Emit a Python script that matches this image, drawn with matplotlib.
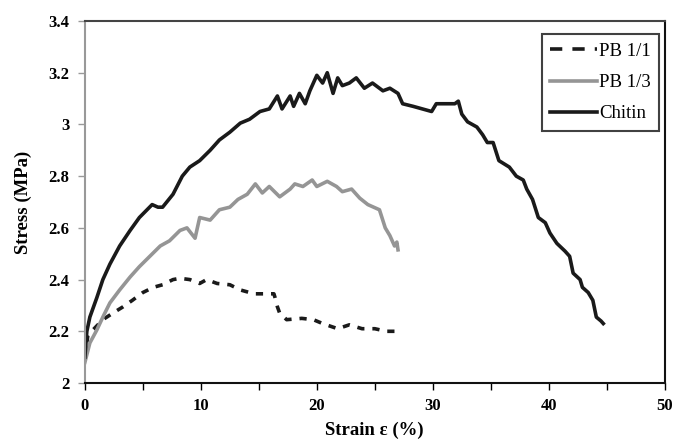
import matplotlib
matplotlib.use('Agg')
import matplotlib.pyplot as plt
from matplotlib.lines import Line2D

plt.rcParams['font.family'] = ['Liberation Serif', 'DejaVu Serif']

# Chitin
chitin_x = [0.0, 0.17, 0.43, 1.03, 1.55, 2.16, 3.0, 3.9, 4.7, 5.8, 6.3, 6.7, 7.6, 8.4,
            9.05, 9.9, 10.8, 11.6, 12.5, 13.4, 14.2, 15.1, 15.9, 16.6, 17.0, 17.7, 18.0,
            18.5, 19.0, 19.4, 20.0, 20.5, 20.9, 21.4, 21.8, 22.2, 22.8, 23.4, 24.1, 24.8,
            25.7, 26.3, 27.0, 27.4, 28.3, 29.1, 29.9, 30.3, 31.2, 31.9, 32.2, 32.5, 33.0,
            33.8, 34.3, 34.7, 35.2, 35.7, 36.6, 37.2, 37.8, 38.1, 38.6, 39.1, 39.7, 40.1,
            40.7, 41.4, 41.8, 42.1, 42.7, 42.9, 43.4, 43.8, 44.1, 44.5, 44.7]
chitin_y = [2.10, 2.20, 2.255, 2.33, 2.40, 2.46, 2.53, 2.59, 2.64, 2.69, 2.68, 2.68, 2.73, 2.80,
            2.835, 2.86, 2.90, 2.94, 2.97, 3.005, 3.02, 3.05, 3.06, 3.11, 3.06, 3.11, 3.07,
            3.12, 3.08, 3.13, 3.19, 3.16, 3.20, 3.12, 3.18, 3.15, 3.16, 3.18, 3.14, 3.16,
            3.13, 3.14, 3.12, 3.08, 3.07, 3.06, 3.05, 3.08, 3.08, 3.08, 3.09, 3.04, 3.01,
            2.99, 2.96, 2.93, 2.93, 2.86, 2.835, 2.80, 2.785, 2.75, 2.71, 2.64, 2.62, 2.58,
            2.54, 2.51, 2.49, 2.425, 2.40, 2.37, 2.35, 2.32, 2.255, 2.24, 2.23]

# PB 1/3
pb13_x = [0.0, 0.43, 1.03, 1.55, 2.16, 3.0, 3.9, 4.7, 5.6, 6.5, 7.3, 8.2, 8.8, 9.5, 9.9,
          10.8, 11.6, 12.5, 13.2, 14.0, 14.7, 15.3, 15.9, 16.8, 17.7, 18.1, 18.8, 19.6,
          20.0, 20.9, 21.7, 22.2, 23.0, 23.7, 24.4, 25.4, 25.9, 26.3, 26.7, 26.9, 27.0]
pb13_y = [2.08, 2.155, 2.205, 2.255, 2.31, 2.36, 2.41, 2.45, 2.49, 2.53, 2.55, 2.59, 2.60, 2.56, 2.64,
          2.63, 2.67, 2.68, 2.71, 2.73, 2.77, 2.735, 2.76, 2.72, 2.75, 2.77, 2.76, 2.785,
          2.76, 2.78, 2.76, 2.74, 2.75, 2.715, 2.69, 2.67, 2.60, 2.57, 2.53, 2.545, 2.515]

# PB 1/1
pb11_x = [0.0, 0.26, 0.69, 1.55, 2.4, 3.3, 4.1, 5.0, 5.9, 6.7, 7.6, 8.2, 9.05, 9.9, 10.5,
          11.4, 12.5, 13.4, 14.6, 15.5, 16.3, 16.4, 16.6, 16.8, 17.4, 18.7, 19.7, 20.5,
          21.8, 22.8, 23.9, 25.0, 26.0, 26.7]
pb11_y = [2.10, 2.185, 2.205, 2.245, 2.27, 2.295, 2.32, 2.35, 2.37, 2.38, 2.40, 2.405, 2.40, 2.385, 2.40,
          2.385, 2.38, 2.36, 2.345, 2.345, 2.345, 2.33, 2.295, 2.27, 2.245, 2.25, 2.245, 2.23,
          2.21, 2.225, 2.21, 2.21, 2.20, 2.20]

fig = plt.figure(figsize=(6.79, 4.43), dpi=100)
ax = fig.add_axes([0.125, 0.1354, 0.854, 0.8172])

ax.plot(pb11_x, pb11_y, color='#1a1a1a', lw=2.6, dashes=(2.0, 2.2))
ax.plot(pb13_x, pb13_y, color='#959595', lw=2.6)
ax.plot(chitin_x, chitin_y, color='#1a1a1a', lw=2.6)

ax.set_xlim(0, 50)
ax.set_ylim(2, 3.4)
ax.set_xticks([0, 10, 20, 30, 40, 50])
ax.set_xticks([5, 15, 25, 35, 45], minor=True)
ax.set_yticks([2, 2.2, 2.4, 2.6, 2.8, 3, 3.2, 3.4])
ax.set_yticklabels(['2', '2.2', '2.4', '2.6', '2.8', '3', '3.2', '3.4'])
ax.tick_params(axis='both', which='both', direction='out', labelsize=12, pad=6)
ax.tick_params(axis='x', which='major', length=5, width=1)
ax.tick_params(axis='x', which='minor', length=5, width=1)
ax.tick_params(axis='y', length=5, width=1, color='#999999')
for lab in ax.get_xticklabels() + ax.get_yticklabels():
    lab.set_fontweight('bold')

ax.spines['left'].set_color('#999999')
ax.spines['left'].set_linewidth(1.5)
ax.spines['bottom'].set_color('#111111')
ax.spines['bottom'].set_linewidth(1.5)
ax.spines['top'].set_color('#444444')
ax.spines['top'].set_linewidth(1.5)
ax.spines['right'].set_color('#111111')
ax.spines['right'].set_linewidth(1.5)

ax.set_xlabel('Strain ε (%)', fontsize=13.5, fontweight='bold', labelpad=5)
ax.set_ylabel('Stress (MPa)', fontsize=13.5, fontweight='bold', labelpad=12)

handles = [Line2D([], [], color='#1a1a1a', lw=2.6, dashes=(3.4, 2.8)),
           Line2D([], [], color='#959595', lw=2.6),
           Line2D([], [], color='#1a1a1a', lw=2.6)]
leg = ax.legend(handles, ['PB 1/1', 'PB 1/3', 'Chitin'], loc='upper right',
                bbox_to_anchor=(0.99, 0.963), fontsize=13.5, frameon=True, fancybox=False,
                edgecolor='#111111', handlelength=2.5, handletextpad=0.1,
                borderpad=0.45, labelspacing=0.75, borderaxespad=0)
leg.get_frame().set_linewidth(1.5)

fig.savefig('out.png', dpi=100)
